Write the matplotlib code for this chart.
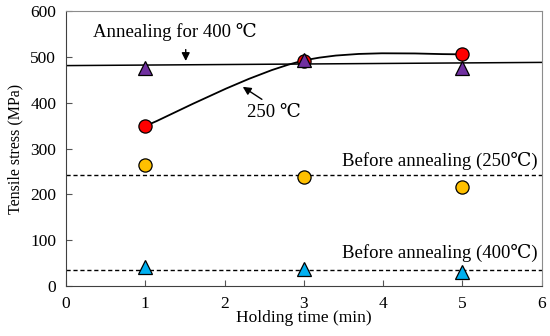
import matplotlib.pyplot as plt
from matplotlib.path import Path
from matplotlib.patches import PathPatch
import numpy as np

# holding time (min)
times = [1, 3, 5]
annealed_250 = [349, 492, 506]
annealed_400 = [476, 493, 476]
before_250 = [264, 238, 216]
before_400 = [42, 38, 30]

# reference lines
line400_x = [0, 6]
line400_y = [481, 488]
before250_level = 242
before400_level = 35

plt.rcParams['font.family'] = ['Liberation Serif', 'DejaVu Serif']

fig = plt.figure(figsize=(5.5, 3.36), dpi=100)
ax = fig.add_axes([0.12, 0.149, 0.865, 0.818])

# smoothed line through the 250 C points (Excel-like bezier)
P = np.column_stack([times, annealed_250]).astype(float)
verts = [P[0]]
codes = [Path.MOVETO]
for i in range(len(P) - 1):
    p_prev = P[i - 1] if i > 0 else P[i]
    p_next2 = P[i + 2] if i + 2 < len(P) else P[i + 1]
    c1 = P[i] + (P[i + 1] - p_prev) / 6
    c2 = P[i + 1] - (p_next2 - P[i]) / 6
    verts += [c1, c2, P[i + 1]]
    codes += [Path.CURVE4] * 3
ax.add_patch(PathPatch(Path(verts, codes), fill=False, lw=1.3, ec='k', zorder=2))

ax.plot(line400_x, line400_y, color='k', lw=1.1, zorder=2)
ax.axhline(before250_level, color='k', lw=1, ls=(0, (3, 2)), zorder=1)
ax.axhline(before400_level, color='k', lw=1, ls=(0, (3, 2)), zorder=1)

ms = 9.5
ax.plot(times, before_250, 'o', ms=ms, mfc='#FFC000', mec='k', mew=0.9, zorder=3)
ax.plot(times, before_400, '^', ms=ms, mfc='#00B0F0', mec='k', mew=0.9, zorder=3)
ax.plot(times, annealed_250, 'o', ms=ms, mfc='#FF0000', mec='k', mew=0.9, zorder=3)
ax.plot(times, annealed_400, '^', ms=ms, mfc='#7030A0', mec='k', mew=0.9, zorder=4)

fs = 13.5
ax.text(0.34, 554, 'Annealing for 400 \u2103', fontsize=fs, va='center', ha='left')
ax.annotate('', xy=(1.51, 485), xytext=(1.51, 522),
            arrowprops=dict(arrowstyle='-|>', color='k', lw=1, mutation_scale=12))
ax.text(2.62, 378, '250 \u2103', fontsize=fs, va='center', ha='center')
ax.annotate('', xy=(2.2, 438), xytext=(2.5, 404),
            arrowprops=dict(arrowstyle='-|>', color='k', lw=1, mutation_scale=12))
ax.text(5.95, 272, 'Before annealing (250\u2103)', fontsize=fs, va='center', ha='right')
ax.text(5.95, 72, 'Before annealing (400\u2103)', fontsize=fs, va='center', ha='right')

ax.set_xlim(0, 6)
ax.set_ylim(0, 600)
ax.set_xticks(range(0, 7))
ax.set_yticks(range(0, 601, 100))
ax.tick_params(direction='in', length=4, width=0.8, labelsize=12.5, pad=7, color='#555555')
ax.set_xlabel('Holding time (min)', fontsize=12.5, labelpad=-1)
ax.set_ylabel('Tensile stress (MPa)', fontsize=11.5, labelpad=5)
for s in ['left', 'bottom']:
    ax.spines[s].set_color('#404040')
for s in ['top', 'right']:
    ax.spines[s].set_color('#8c8c8c')

fig.savefig('out.png', dpi=100)
